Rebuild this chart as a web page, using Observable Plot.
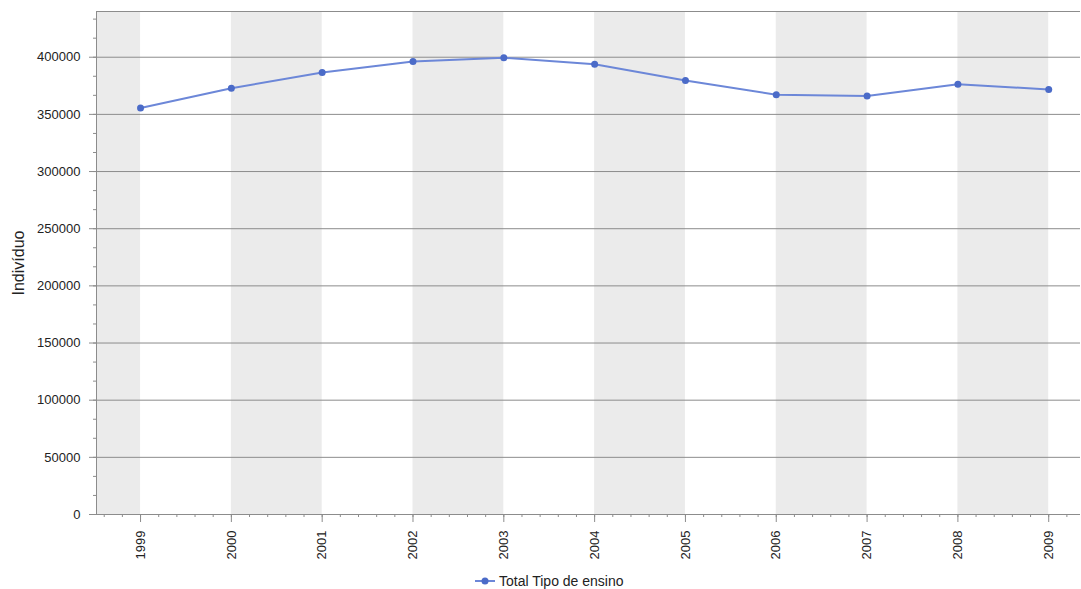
<!DOCTYPE html>
<html>
<head>
<meta charset="utf-8">
<script src="https://cdn.jsdelivr.net/npm/d3@7"></script>
<script src="https://cdn.jsdelivr.net/npm/@observablehq/plot@0.6"></script>
<style>
  html, body { margin: 0; padding: 0; background: #fff; }
  body { font-family: "Liberation Sans", Arial, sans-serif; position: relative; width: 1081px; height: 589px; overflow: hidden; }
  #legend { position: absolute; left: 475px; top: 571px; height: 20px; line-height: 20px; font-size: 14px; color: #222; white-space: nowrap; display: flex; align-items: center; }
  #legend svg { margin-right: 4px; }
</style>
</head>
<body>
<div id="chart"></div>
<div id="legend"></div>
<script>
// ---- data ----
const years = [1999, 2000, 2001, 2002, 2003, 2004, 2005, 2006, 2007, 2008, 2009];
const values = [355500, 372950, 386650, 396250, 399500, 393900, 379700, 367200, 366000, 376400, 371800];
const yTicks = [0, 50000, 100000, 150000, 200000, 250000, 300000, 350000, 400000];
const xTickLabels = ["1999", "2000", "2001", "2002", "2003", "2004", "2005", "2006", "2007", "2008", "2009"];
const seriesName = "Total Tipo de ensino";
const yLabel = "Indivíduo";

// ---- derived ----
const data = years.map((y, i) => ({ year: y, value: values[i] }));
const bandYears = years.filter((d, i) => i % 2 === 0);
const xDomain = [1998.515, 2009.35];
const yDomain = [0, 440000];
const minorX = d3.range(19986, 20093, 2).map(d => d / 10);
const minorY = d3.range(0, 440000, 50000 / 3);

const lineColor = "#6c87d8";
const dotColor = "#4b6bc8";
const gridColor = "#8c8c8c";
const textColor = "#222";

const chart = Plot.plot({
  width: 1081,
  height: 570,
  marginLeft: 96,
  marginRight: 1,
  marginTop: 11,
  marginBottom: 56,
  style: { fontFamily: "'Liberation Sans', Arial, sans-serif", fontSize: "13px", color: textColor, background: "#fff" },
  x: { domain: xDomain, axis: null },
  y: { domain: yDomain, axis: null },
  marks: [
    Plot.rect(bandYears, { x1: d => d - 1, x2: d => d, y1: yDomain[0], y2: yDomain[1], fill: "#ebebeb", clip: true }),
    Plot.ruleY(yTicks, { stroke: gridColor, strokeWidth: 1 }),
    Plot.ruleY([yDomain[1]], { stroke: gridColor, strokeWidth: 1 }),
    Plot.ruleX([xDomain[0]], { stroke: gridColor, strokeWidth: 1 }),
    Plot.axisY({ ticks: minorY, tickSize: 3, text: null, label: null, stroke: gridColor }),
    Plot.axisY({ ticks: yTicks, tickSize: 7, tickPadding: 9, tickFormat: d => String(d), label: null, stroke: gridColor, fill: textColor, fontSize: 13 }),
    Plot.axisX({ ticks: minorX, tickSize: 3, text: null, label: null, stroke: gridColor }),
    Plot.axisX({ ticks: years, tickSize: 8, tickPadding: 8, tickRotate: -90, tickFormat: d => xTickLabels[years.indexOf(d)], label: null, stroke: gridColor, fill: textColor, fontSize: 13 }),
    Plot.text([yLabel], { frameAnchor: "left", dx: -78, rotate: -90, textAnchor: "middle", text: d => d, fontSize: 16, fill: textColor }),
    Plot.line(data, { x: "year", y: "value", stroke: lineColor, strokeWidth: 2 }),
    Plot.dot(data, { x: "year", y: "value", r: 3.5, fill: dotColor, stroke: "none" })
  ]
});
document.getElementById("chart").appendChild(chart);

const legend = document.getElementById("legend");
legend.innerHTML = `<svg width="20" height="10"><line x1="0" y1="5" x2="20" y2="5" stroke="${lineColor}" stroke-width="2"/><circle cx="10" cy="5" r="3.5" fill="${dotColor}"/></svg><span>${seriesName}</span>`;
</script>
</body>
</html>
